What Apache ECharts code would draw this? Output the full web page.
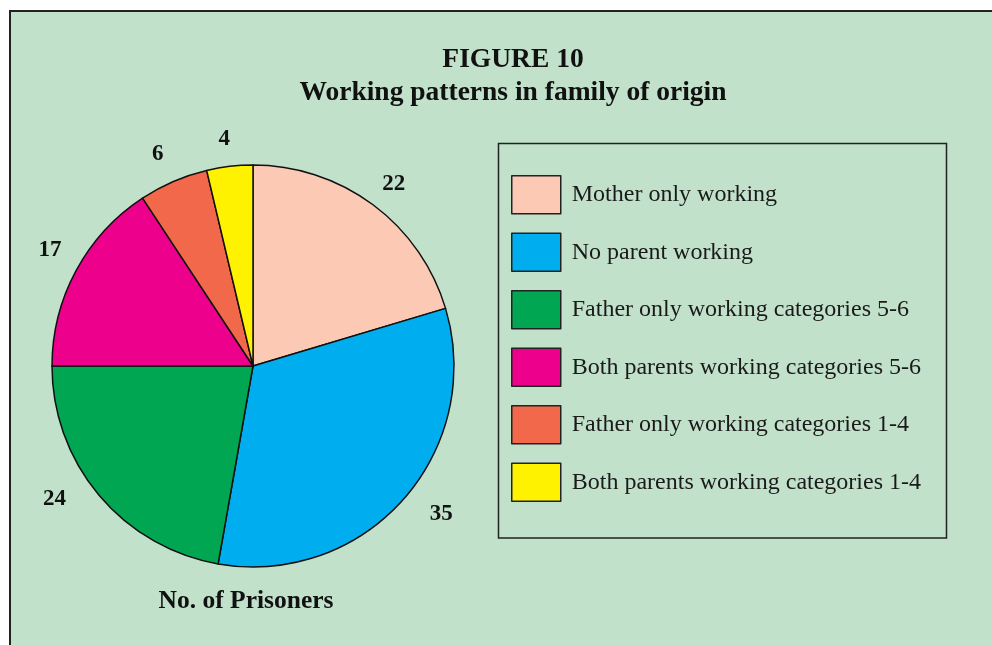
<!DOCTYPE html>
<html>
<head>
<meta charset="utf-8">
<title>Working patterns in family of origin</title>
<script src="https://cdn.jsdelivr.net/npm/echarts@6/dist/echarts.min.js"></script>
<style>
  html, body { margin: 0; padding: 0; background: #fff; }
  #chart { width: 992px; height: 645px; }
</style>
</head>
<body>
<div id="chart"></div>
<script>
// categories and counts, read clockwise from 12 o'clock
const categories = [
  'Mother only working',
  'No parent working',
  'Father only working categories 5-6',
  'Both parents working categories 5-6',
  'Father only working categories 1-4',
  'Both parents working categories 1-4',
]
const prisoners = [22, 35, 24, 17, 6, 4]
const colors = ['#fcc9b4', '#00aeef', '#00a651', '#ec008c', '#f1684a', '#fff200']

const serif = '"Liberation Serif", "DejaVu Serif", serif'

// the original hand-placed a few value labels a little off the slice middle
const labelNudge = [[3, 3], [16, -5], [-22, -15], [0, -7], [-4, 0], [-2, 2]]

const chart = echarts.init(document.getElementById('chart'), null, { renderer: 'canvas' })

const pieData = categories.map((name, i) => ({
  name: name,
  value: prisoners[i],
  itemStyle: { color: colors[i] },
}))

chart.setOption({
  animation: false,
  backgroundColor: '#ffffff',
  title: [{
    text: 'FIGURE 10\nWorking patterns in family of origin',
    left: 508,
    top: 38,
    textAlign: 'center',
    textStyle: {
      fontFamily: serif,
      fontWeight: 'bold',
      fontSize: 27.5,
      lineHeight: 33,
      color: '#111',
    },
  }, {
    text: 'No. of Prisoners',
    left: 246,
    top: 588,
    padding: 0,
    textAlign: 'center',
    textStyle: {
      fontFamily: serif,
      fontWeight: 'bold',
      fontSize: 25.5,
      lineHeight: 27,
      color: '#111',
    },
  }],
  graphic: [{
    // panel background with its top/left rule
    type: 'rect',
    z: -10,
    silent: true,
    shape: { x: 10, y: 11, width: 1100, height: 800 },
    style: { fill: '#c1e1ca', stroke: '#222', lineWidth: 2 },
  }, {
    // legend frame
    type: 'rect',
    z: 1,
    silent: true,
    shape: { x: 498.5, y: 143.5, width: 448, height: 394.5 },
    style: { fill: 'none', stroke: '#222', lineWidth: 1.5 },
  }],
  legend: {
    data: categories,
    orient: 'vertical',
    left: 511,
    top: 175,
    padding: 0,
    itemWidth: 49,
    itemHeight: 38,
    itemGap: 18,
    icon: 'rect',
    selectedMode: false,
    itemStyle: { borderColor: '#222', borderWidth: 1.5 },
    textStyle: {
      fontFamily: serif,
      fontSize: 24,
      color: '#1a1a1a',
      padding: [0, 0, 0, 6],
    },
  },
  series: [{
    name: 'No. of Prisoners',
    type: 'pie',
    center: [253, 366],
    radius: 201,
    startAngle: 90,
    clockwise: true,
    silent: true,
    label: { show: false },
    labelLine: { show: false },
    itemStyle: { borderColor: '#111', borderWidth: 1.5 },
    emphasis: { disabled: true },
    data: pieData,
  }, {
    // invisible ring that carries the value labels outside the pie
    name: 'labels',
    type: 'pie',
    center: [253, 366],
    radius: [201, 254],
    startAngle: 90,
    clockwise: true,
    silent: true,
    itemStyle: { color: 'rgba(0,0,0,0)', borderWidth: 0 },
    label: {
      show: true,
      position: 'inside',
      formatter: '{c}',
      fontFamily: serif,
      fontWeight: 'bold',
      fontSize: 23,
      color: '#111',
    },
    labelLine: { show: false },
    emphasis: { disabled: true },
    data: categories.map((name, i) => ({
      name: name,
      value: prisoners[i],
      label: { offset: labelNudge[i] },
    })),
  }],
})
</script>
</body>
</html>
